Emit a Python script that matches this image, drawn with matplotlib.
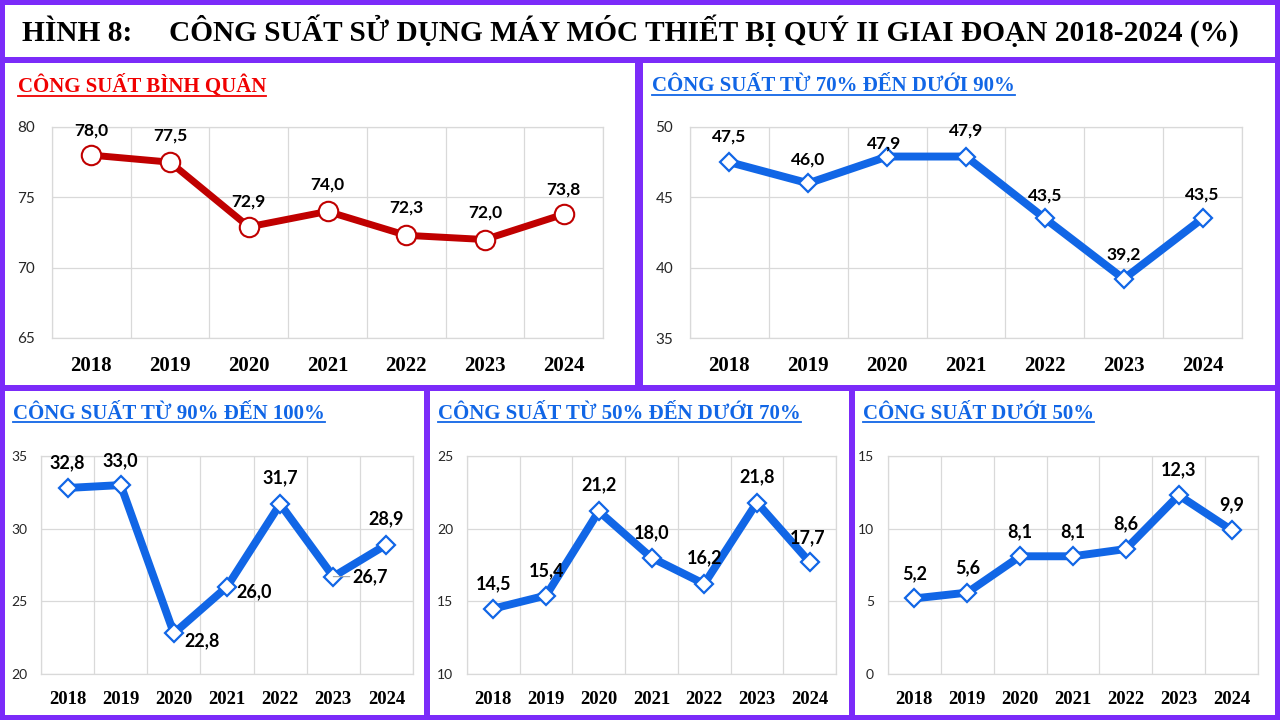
import numpy as np
import matplotlib
matplotlib.use('Agg')
import matplotlib.pyplot as plt
from matplotlib.patches import Rectangle
from matplotlib.lines import Line2D

# data (quy II, %)
years = ['2018', '2019', '2020', '2021', '2022', '2023', '2024']
binh_quan = [78.0, 77.5, 72.9, 74.0, 72.3, 72.0, 73.8]
tu_70_den_90 = [47.5, 46.0, 47.9, 47.9, 43.5, 39.2, 43.5]
tu_90_den_100 = [32.8, 33.0, 22.8, 26.0, 31.7, 26.7, 28.9]
tu_50_den_70 = [14.5, 15.4, 21.2, 18.0, 16.2, 21.8, 17.7]
duoi_50 = [5.2, 5.6, 8.1, 8.1, 8.6, 12.3, 9.9]

PURPLE = '#7B2BF9'
RED_LINE = '#C00000'
RED_TITLE = '#F00000'
BLUE = '#1166E6'
GRID = '#D9D9D9'
SERIF = ['Liberation Serif', 'DejaVu Serif']
SANS = ['Lato', 'DejaVu Sans']

W, H = 1280, 720
fig = plt.figure(figsize=(12.8, 7.2), dpi=100, facecolor=PURPLE)


def px_box(x0, y0, x1, y1):
    """pixel box (top-left origin) -> figure fraction [l, b, w, h]"""
    return [x0 / W, 1 - y1 / H, (x1 - x0) / W, (y1 - y0) / H]


# white boxes on the purple background
for x0, y0, x1, y1 in [(5, 5, 1275, 57), (5, 63, 635, 385), (643, 63, 1275, 385),
                       (5, 391, 424, 715), (430, 391, 849, 715), (855, 391, 1275, 715)]:
    l, b, w, h = px_box(x0, y0, x1, y1)
    fig.add_artist(Rectangle((l, b), w, h, transform=fig.transFigure,
                             facecolor='white', edgecolor='none', zorder=0))

fig.text(630 / W, 1 - 31 / H,
         'HÌNH 8:     CÔNG SUẤT SỬ DỤNG MÁY MÓC THIẾT BỊ QUÝ II GIAI ĐOẠN 2018-2024 (%)',
         family=SERIF, weight='bold', fontsize=21.2, ha='center', va='center')

titles = []


def panel_title(x, y, text, color):
    t = fig.text(x / W, 1 - y / H, text, family=SERIF, weight='bold',
                 fontsize=15, color=color, ha='left', va='center')
    titles.append((t, color))


def draw_panel(box, values, ylim, color, marker, offsets, big=True):
    ax = fig.add_axes(px_box(*box))
    x = np.arange(len(years))
    if marker == 'o':
        ax.plot(x, values, color=color, lw=5, marker='o', ms=14,
                mfc='white', mec=color, mew=1.5, zorder=3, clip_on=False)
    else:
        ax.plot(x, values, color=color, lw=5.7, marker='D', ms=9.5,
                mfc='white', mec=color, mew=1.6, zorder=3, clip_on=False)

    ax.set_xlim(-0.5, len(years) - 0.5)
    ax.set_ylim(*ylim)
    ax.set_yticks(np.arange(ylim[0], ylim[1] + 1, 5))
    ax.set_xticks(x)
    ax.set_xticks(np.arange(-0.5, len(years)), minor=True)
    ax.set_xticklabels(years, family=SERIF, weight='bold',
                       fontsize=15 if big else 13.5)
    for lab in ax.get_yticklabels():
        lab.set_family(SANS)
        lab.set_fontsize(11 if big else 10)
        lab.set_color('#262626')
    ax.tick_params(axis='x', which='both', length=0, pad=13 if big else 12)
    ax.tick_params(axis='y', length=0, pad=12 if big else 10)
    ax.grid(axis='y', which='major', color=GRID, lw=0.9)
    ax.grid(axis='x', which='minor', color=GRID, lw=0.9)
    ax.set_axisbelow(True)
    for s in ax.spines.values():
        s.set_color(GRID)
        s.set_linewidth(0.9)

    fs = 12.5 if big else 13
    for i, v in enumerate(values):
        dx, dy = offsets[i]
        label = f'{v:.1f}'.replace('.', ',')
        if dx > 30:
            # label pushed to the right with a small leader line
            ax.annotate(label, (i, v), xytext=(dx, dy), textcoords='offset pixels',
                        ha='center', va='center', family=SANS, weight='bold',
                        fontsize=fs, zorder=5,
                        arrowprops=dict(arrowstyle='-', color='#A6A6A6', lw=0.8,
                                        shrinkA=15, shrinkB=0))
        else:
            ax.annotate(label, (i, v), xytext=(dx, dy), textcoords='offset pixels',
                        ha='center', va='center', family=SANS, weight='bold',
                        fontsize=fs, zorder=5)
    return ax


# top left - cong suat binh quan
panel_title(18, 86, 'CÔNG SUẤT BÌNH QUÂN', RED_TITLE)
draw_panel((52, 127, 603, 338), binh_quan, (65, 80), RED_LINE, 'o',
           [(0, 25), (0, 27), (0, 25), (0, 27), (0, 28), (0, 27), (0, 25)])

# top right - 70% den duoi 90%
panel_title(652, 86, 'CÔNG SUẤT TỪ 70% ĐẾN DƯỚI 90%', BLUE)
draw_panel((690, 127, 1242, 338), tu_70_den_90, (35, 50), BLUE, 'D',
           [(0, 26), (0, 24), (-3, 13), (0, 26), (0, 23), (0, 24), (0, 24)])

# bottom left - 90% den 100%
panel_title(13, 414, 'CÔNG SUẤT TỪ 90% ĐẾN 100%', BLUE)
draw_panel((41, 456, 413, 674), tu_90_den_100, (20, 35), BLUE, 'D',
           [(0, 25), (0, 24), (28, -7), (27, -5), (0, 26), (37, 0), (0, 26)],
           big=False)

# bottom middle - 50% den duoi 70%
panel_title(438, 414, 'CÔNG SUẤT TỪ 50% ĐẾN DƯỚI 70%', BLUE)
draw_panel((467, 456, 836, 674), tu_50_den_70, (10, 25), BLUE, 'D',
           [(0, 25), (0, 25), (0, 26), (0, 25), (0, 26), (0, 26), (-2, 24)],
           big=False)

# bottom right - duoi 50%
panel_title(863, 414, 'CÔNG SUẤT DƯỚI 50%', BLUE)
draw_panel((888, 456, 1258, 674), duoi_50, (0, 15), BLUE, 'D',
           [(0, 25)] * 7, big=False)

# underline the panel titles
fig.canvas.draw()
renderer = fig.canvas.get_renderer()
for t, color in titles:
    bb = t.get_window_extent(renderer).transformed(fig.transFigure.inverted())
    y = bb.y0 + 1.5 / H
    fig.add_artist(Line2D([bb.x0, bb.x1], [y, y], transform=fig.transFigure,
                          color=color, lw=1.3))

fig.savefig('out.png', dpi=100, facecolor=PURPLE)
